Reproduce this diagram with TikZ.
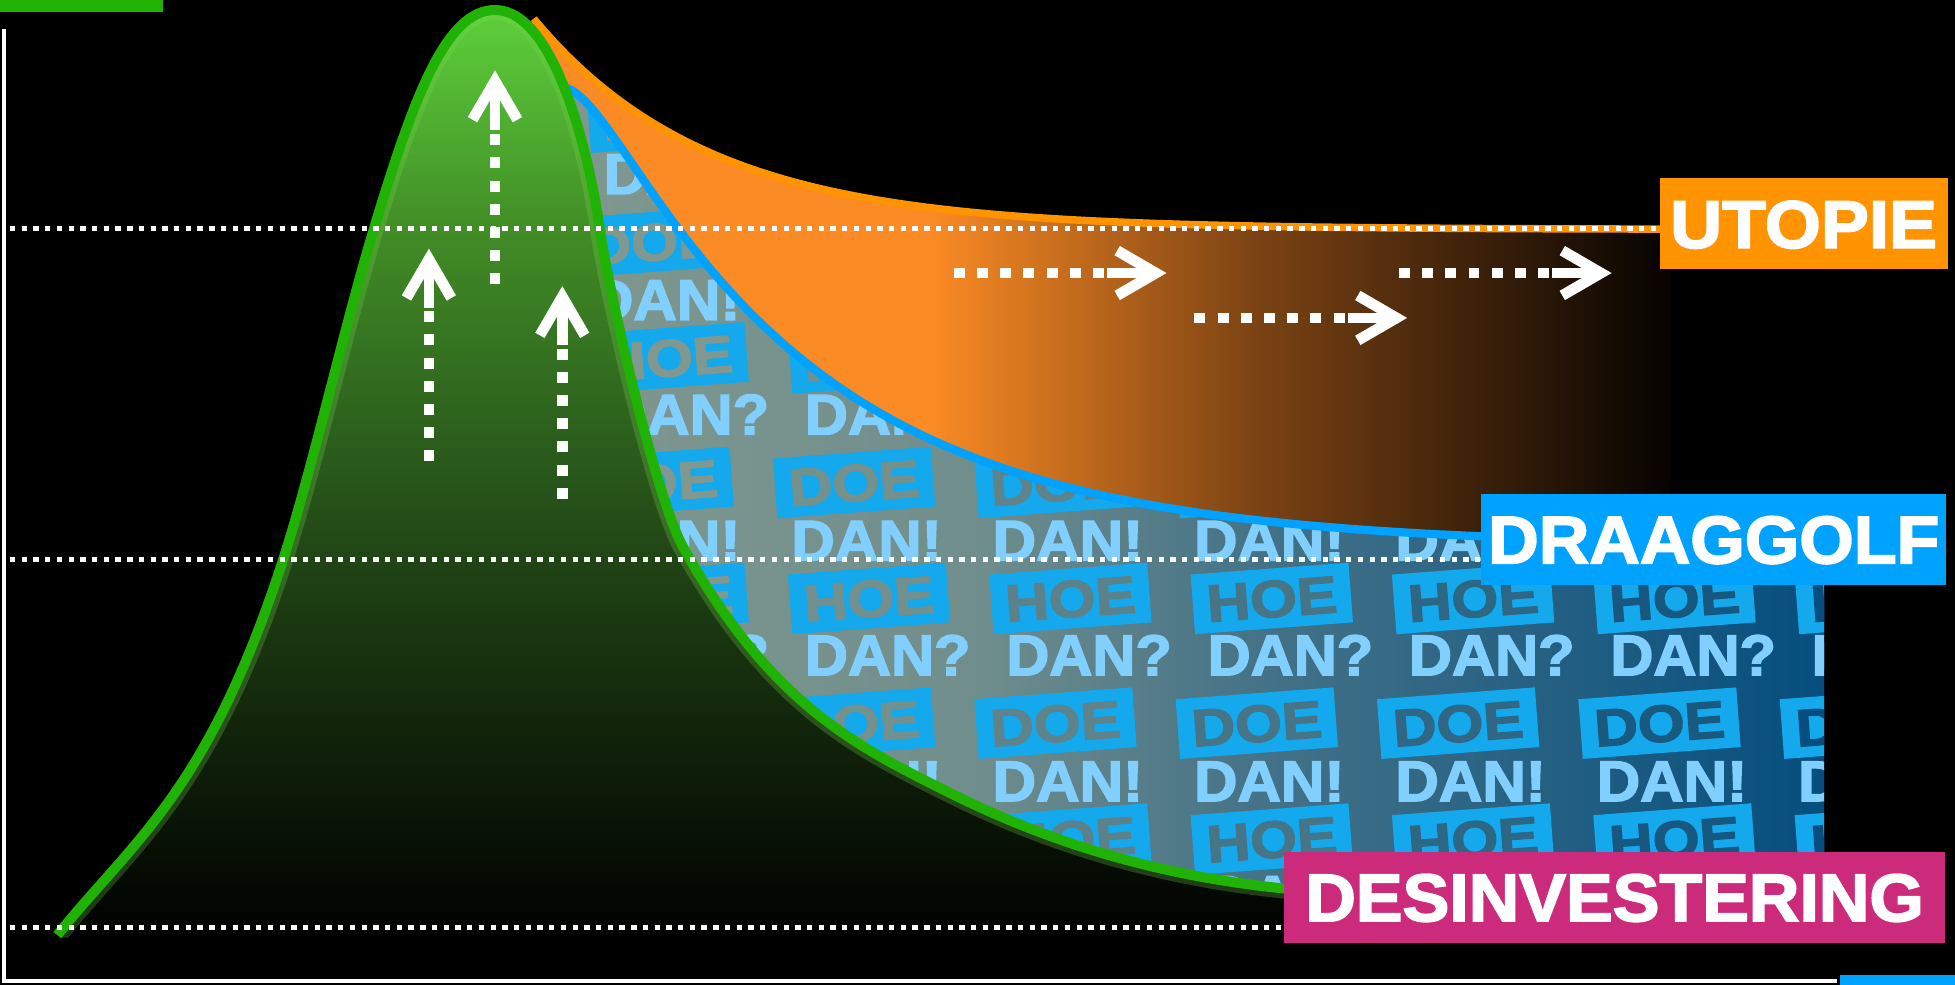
\documentclass[tikz,border=0pt]{standalone}
\usepackage{fontspec}
\setmainfont{Liberation Sans}
\newfontfamily\heavy{Liberation Sans}[UprightFont={* Bold}, FakeBold=2.5]
\usetikzlibrary{calc}
\definecolor{gline}{RGB}{32,178,4}
\definecolor{bline}{RGB}{0,162,255}
\definecolor{oline}{RGB}{255,147,0}
\definecolor{mag}{RGB}{204,42,122}
\definecolor{ofill}{RGB}{251,139,36}
\definecolor{obrown}{RGB}{126,68,20}
\definecolor{odark}{RGB}{5,3,1}
\definecolor{bgL}{RGB}{128,152,143}
\definecolor{bgA}{RGB}{112,142,140}
\definecolor{bgM}{RGB}{70,115,135}
\definecolor{bgR}{RGB}{5,78,126}
\definecolor{tilebox}{RGB}{20,168,236}
\definecolor{tiletext}{RGB}{128,207,255}
\definecolor{gA}{RGB}{95,210,60}
\definecolor{gB}{RGB}{66,142,38}
\definecolor{gC}{RGB}{42,92,28}
\definecolor{gD}{RGB}{24,50,15}
\definecolor{grim}{RGB}{120,220,80}

\newcommand\greenpath{(46,750) .. controls (106.3,674.6) and (166.7,636) .. (227,449)
  .. controls (251.3,373.6) and (275.7,263.3) .. (300,183)
  .. controls (332.3,76.4) and (358,8) .. (397,8)
  .. controls (445,8) and (472.5,123.6) .. (481,183)
  .. controls (488,232.5) and (526.1,399.7) .. (548,439)
  .. controls (619.3,567.4) and (690.7,600.3) .. (762,636)
  .. controls (866.3,688.2) and (970.7,710.8) .. (1075,716)}
\newcommand\bluepath{plot[domain=446:1240, samples=110, smooth] (\x,{438-430*exp(-(\x-448)/185)+62*exp(-(\x-448)/25)})}
\newcommand\orangepath{plot[domain=428:1335, samples=100, smooth] (\x,{184-169*exp(-(\x-428)/140)})}

\newcommand\upArrow[2]{%
  \draw[dotshaft] (#1) -- (#2);
  \draw[stem] (#2) -- ($(#2)+(0,39)$);
  \draw[chev] ($(#2)+(-18,31)$) -- (#2) -- ($(#2)+(18,31)$);}
\newcommand\rightArrow[2]{%
  \draw[dotshaft] (#1) -- (#2);
  \draw[stem] (#2) -- ($(#2)+(-39,0)$);
  \draw[chev] ($(#2)+(-31,-18)$) -- (#2) -- ($(#2)+(-31,18)$);}

\begin{document}
\begin{tikzpicture}[x=0.5pt,y=-0.5pt,
  guide/.style={white, line width=2.1pt, dash pattern=on 2.15pt off 2.55pt},
  dotshaft/.style={white, line width=4.2pt, dash pattern=on 4.4pt off 4.9pt},
  stem/.style={white, line width=4.2pt},
  chev/.style={white, line width=4.3pt, line join=miter, miter limit=10},
  tbox/.style={fill=tilebox, inner sep=0pt, minimum width=63.5pt, minimum height=24pt,
    font=\heavy\fontsize{21}{21}\selectfont, text height=15pt, text depth=0pt, rotate=4.3},
  tdan/.style={text=tiletext, inner sep=0pt, font=\heavy\fontsize{23}{23}\selectfont,
    text height=16.5pt, text depth=0pt},
  lab/.style={text=white, inner sep=0pt, font=\heavy\fontsize{27}{27}\selectfont,
    text height=19.3pt, text depth=0pt},
]
\useasboundingbox (0,0) rectangle (1568,790);
\fill[black] (0,0) rectangle (1568,790);

% orange (utopie) band
\begin{scope}
  \clip \orangepath -- (1340,184) -- (1340,445) -- (430,445) -- cycle;
  \fill[ofill] (400,0) rectangle (746,460);
  \shade[left color=ofill, right color=obrown] (745,0) rectangle (1001,460);
  \shade[left color=obrown, right color=odark] (1000,0) rectangle (1341,460);
\end{scope}

% blue (draaggolf) patterned region
\begin{scope}
  \clip \bluepath -- (1463,433) -- (1463,730) -- (470,730) -- cycle;
  \shade[left color=bgL, right color=bgA] (440,0) rectangle (781,760);
  \shade[left color=bgA, right color=bgM] (780,0) rectangle (1001,760);
  \shade[left color=bgM, right color=bgR] (1000,0) rectangle (1464,760);
  \foreach \k in {-1,...,5} {
    \foreach \j in {-2,...,1} {
      \pgfmathsetmacro\bx{685+161.5*\k}
      \pgfmathsetmacro\by{387+193*\j}
      \pgfmathtruncatemacro\pa{max(0,min(100,(\bx-600)/8.6))}
      \pgfmathtruncatemacro\pb{max(0,min(100,(\bx+12-600)/8.6))}
      \colorlet{koA}{bgR!\pa!bgL}
      \colorlet{koB}{bgR!\pb!bgL}
      \ifnum\j>-2 \node[tbox, text=koA] (doe\k\j) at (\bx,\by) {\scalebox{1.15}[1]{DOE}}; \fi
      \node[tdan] (dan\k\j) at (\bx+10,\by+46) {\scalebox{1.05}[1]{DAN!}};
      \node[tbox, text=koB] (hoe\k\j) at (\bx+12,\by+93) {\scalebox{1.15}[1]{HOE}};
      \node[tdan] (danq\k\j) at (\bx+27,\by+138) {\scalebox{1.04}[1]{DAN?}};
    }
  }
\end{scope}

% curve strokes behind the green hill
\draw[oline, line width=3pt] \orangepath;
\draw[bline, line width=3.3pt] \bluepath;

% green hill
\begin{scope}
  \clip \greenpath -- (1075,752) -- (46,752) -- cycle;
  \shade[top color=gA, bottom color=gB] (0,0) rectangle (1100,181);
  \shade[top color=gB, bottom color=gC] (0,180) rectangle (1100,361);
  \shade[top color=gC, bottom color=gD] (0,360) rectangle (1100,521);
  \shade[top color=gD, bottom color=black] (0,520) rectangle (1100,752);
  \draw[grim, opacity=0.25, line width=8pt] \greenpath;
\end{scope}
\draw[gline, line width=4pt] \greenpath;

% axes and corner bars
\fill[gline] (0,0) rectangle (131,10);
\fill[bline] (1476,782) rectangle (1568,790);
\coordinate (axTop) at (3.5,23);
\coordinate (axCorner) at (3.5,786.5);
\coordinate (axRight) at (1473,786.5);
\draw[white, line width=1.6pt] (axTop) -- (axCorner) -- (axRight);

% labels
\node[lab, fill=oline, minimum width=115.5pt, minimum height=36.5pt] (utopie) at (1446.5,179.5) {\scalebox{1.07}[1]{UTOPIE}};
\node[lab, fill=bline, minimum width=186.5pt, minimum height=36.5pt] (draag) at (1374.5,432.5) {\scalebox{1.04}[1]{DRAAGGOLF}};
\node[lab, fill=mag, minimum width=265pt, minimum height=36.5pt] (desinv) at (1295,719.5) {\scalebox{1.04}[1]{DESINVESTERING}};

% dotted guide lines
\coordinate (g1) at (8,183.4);
\coordinate (g2) at (8,449);
\coordinate (g3) at (8,744);
\draw[guide] (g1) -- (utopie.west |- g1);
\draw[guide] (g2) -- (draag.west |- g2);
\draw[guide] (g3) -- (desinv.west |- g3);

% dotted arrows
\coordinate (aT) at (397,228);   \coordinate (aH) at (397,65);
\coordinate (bT) at (344,370);   \coordinate (bH) at (344,208);
\coordinate (cT) at (451,400);   \coordinate (cH) at (451,238);
\coordinate (dT) at (765,219);   \coordinate (dH) at (927,219);
\coordinate (eT) at (958,255);   \coordinate (eH) at (1120,255);
\coordinate (fT) at (1122,219);  \coordinate (fH) at (1284,219);
\upArrow{aT}{aH}
\upArrow{bT}{bH}
\upArrow{cT}{cH}
\rightArrow{dT}{dH}
\rightArrow{eT}{eH}
\rightArrow{fT}{fH}
\end{tikzpicture}
\end{document}
